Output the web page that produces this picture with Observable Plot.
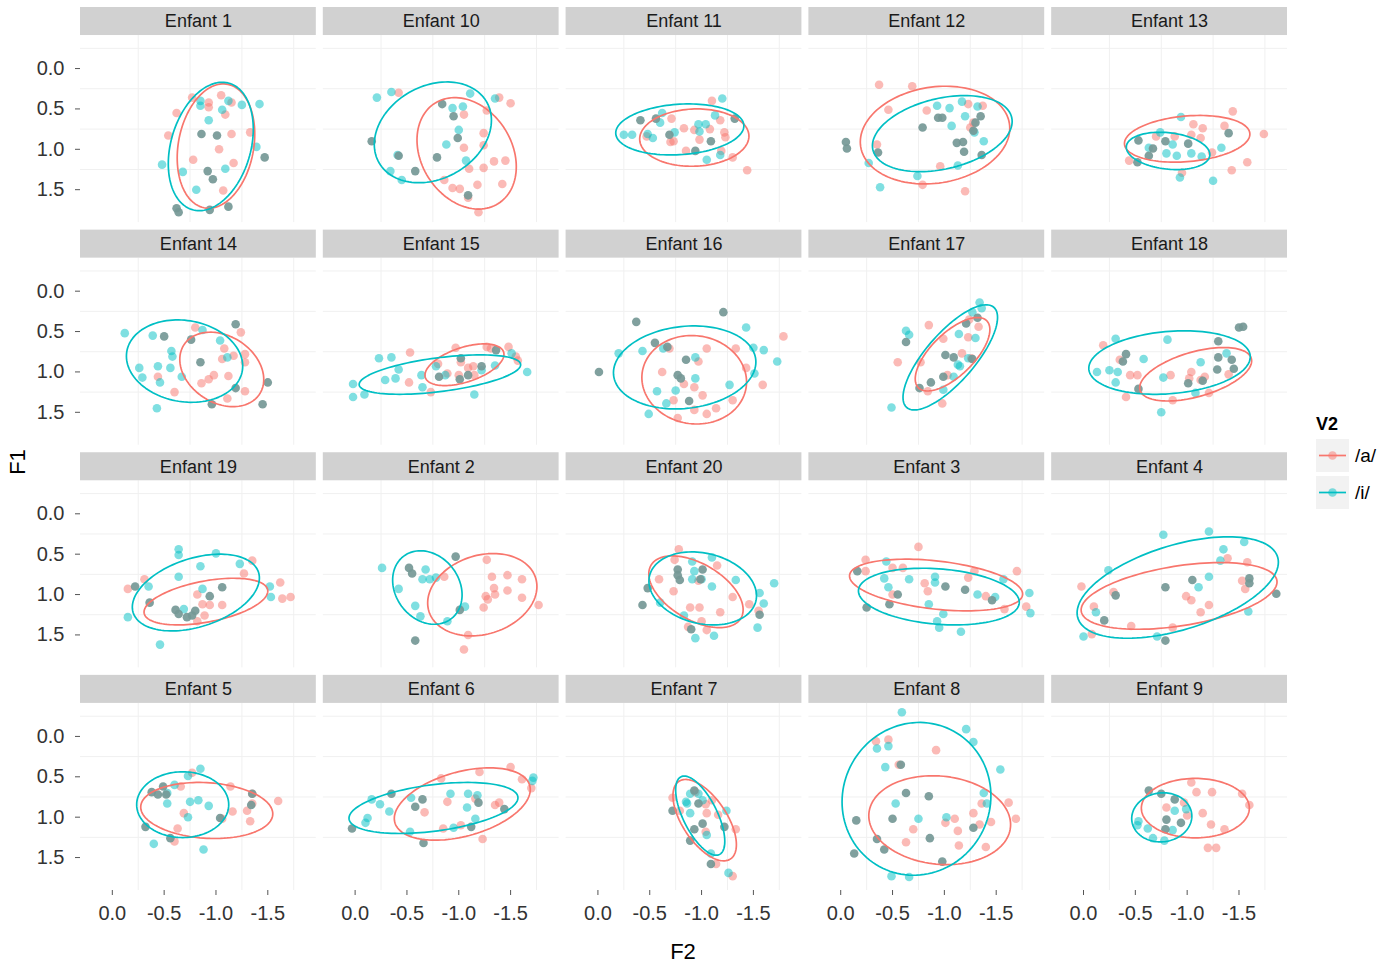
<!DOCTYPE html>
<html>
<head>
<meta charset="utf-8">
<script src="https://cdn.jsdelivr.net/npm/d3@7"></script>
<script src="https://cdn.jsdelivr.net/npm/@observablehq/plot@0.6"></script>
<style>
  html, body { margin: 0; padding: 0; background: #fff; }
  body { font-family: "Liberation Sans", Arial, Helvetica, sans-serif; }
  #wrap { position: relative; width: 1395px; height: 964px; overflow: hidden; background: #fff; }
  #chart { position: absolute; left: 0; top: 0; }
  .axis-title { position: absolute; font-size: 22px; color: #000; white-space: nowrap; }
  #xtitle { left: 683px; top: 952px; transform: translate(-50%, -50%); }
  #ytitle { left: 18px; top: 462px; transform: translate(-50%, -50%) rotate(-90deg); }
  #legend { position: absolute; left: 1316px; top: 412px; }
  #legend .ltitle { font-weight: bold; font-size: 18px; color: #000; height: 24px; line-height: 24px; }
  #legend .lrow { display: flex; align-items: center; height: 35px; margin-top: 2px; }
  #legend .lkey { width: 33px; height: 33px; background: #F2F2F2; }
  #legend .llab { font-size: 19px; margin-left: 6px; color: #000; }
</style>
</head>
<body>
<div id="wrap">
  <div id="chart"></div>
  <div id="xtitle" class="axis-title">F2</div>
  <div id="ytitle" class="axis-title">F1</div>
  <div id="legend"></div>
</div>
<script>
// ---------------- data ----------------
const children = [
  "Enfant 1","Enfant 10","Enfant 11","Enfant 12","Enfant 13",
  "Enfant 14","Enfant 15","Enfant 16","Enfant 17","Enfant 18",
  "Enfant 19","Enfant 2","Enfant 20","Enfant 3","Enfant 4",
  "Enfant 5","Enfant 6","Enfant 7","Enfant 8","Enfant 9"
];
const vowels = ["/a/", "/i/"];
const vowelColors = ["#F8766D", "#00BFC4"];
const legendTitle = "V2";
const xTitle = "F2";
const yTitle = "F1";

const f2Ticks = [0, -0.5, -1, -1.5];
const f1Ticks = [0, 0.5, 1, 1.5];
const f2Grid = [-0.25, -0.75, -1.25, -1.75];
const f1Grid = [-0.25, 0.25, 0.75, 1.25];
const F2_LIMITS = [0.307, -1.968];
const F1_LIMITS = [-0.409, 1.908];
const STRIP_TOP = -0.756;

// [child, [[F2, F1], ...]] — /a/ tokens
const pointsA = [
  ["Enfant 1", [[-1.05,.33],[-.93,.42],[-.93,.48],[-1.15,.42],[-1.09,.57],[-.62,.55],[-.77,.36],[-.54,.83],[-1.15,.81],[-1.33,.79],[-1.03,1.00],[-.78,1.13],[-1.17,1.17],[-1.07,1.51]]],
  ["Enfant 10", [[-.42,.30],[-1.39,.36],[-1.50,.43],[-1.05,.57],[-1.27,.52],[-1.24,.80],[-1.05,.98],[-1.24,.95],[-1.34,1.15],[-1.45,1.14],[-1.24,1.23],[-1.10,1.24],[-.86,1.38],[-1.18,1.44],[-1.42,1.43],[-.94,1.48],[-1.01,1.49],[-1.09,1.60],[-1.19,1.78]]],
  ["Enfant 11", [[-1.10,.40],[-.71,.62],[-1.18,.64],[-1.08,.75],[-.83,.74],[-.93,.76],[-1.22,.79],[-1.23,.85],[-.98,.88],[-.70,.91],[-.73,.90],[-.47,.84],[-.85,1.02],[-1.19,1.02],[-1.30,1.10],[-1.44,1.26]]],
  ["Enfant 12", [[-.37,.20],[-.69,.22],[-.46,.51],[-.83,.52],[-1.23,.44],[-1.37,.46],[-1.28,.67],[-1.25,.73],[-.35,.94],[-.96,1.21],[-.79,1.44],[-1.20,1.52]]],
  ["Enfant 13", [[-1.44,.53],[-1.06,.69],[-1.15,.74],[-1.36,.71],[-1.04,.82],[-1.13,.86],[-1.74,.81],[-.88,.84],[-.70,.84],[-1.24,1.04],[-1.58,1.16],[-1.43,1.26],[-.44,1.14],[-.95,1.29]]],
  ["Enfant 14", [[-.80,.45],[-1.24,.51],[-1.08,.71],[-1.17,.80],[-1.28,.78],[-1.28,.88],[-1.06,.84],[-1.12,1.05],[-.98,1.04],[-.93,1.09],[-.86,1.14],[-.44,1.06],[-.60,1.25],[-1.11,1.33],[-1.28,1.24]]],
  ["Enfant 15", [[-.53,.76],[-.97,.70],[-1.27,.69],[-1.31,.71],[-1.48,.69],[-1.55,.81],[-1.57,.86],[-1.02,.88],[-.80,.90],[-1.09,.95],[-1.14,.93],[-.89,1.02],[-1.00,1.04],[-1.15,1.04],[-.52,1.13],[-.73,1.25]]],
  ["Enfant 16", [[-1.79,.56],[-1.05,.71],[-1.33,.71],[-.69,.71],[-.62,1.00],[-.97,.87],[-.83,1.15],[-.93,1.19],[-1.01,1.29],[-.73,1.35],[-1.30,1.35],[-1.14,1.45],[-1.05,1.52],[-.93,1.47],[-.77,1.57],[-1.59,1.16],[-1.43,.95]]],
  ["Enfant 17", [[-.85,.42],[-.99,.59],[-1.23,.57],[-1.33,.44],[-1.24,.35],[-1.17,.77],[-.77,.88],[-.55,.88],[-1.03,1.04],[-.84,1.24],[-.98,1.39],[-1.26,.83]]],
  ["Enfant 18", [[-.19,.67],[-.35,.85],[-.45,1.04],[-.52,1.04],[-.84,1.04],[-1.04,1.00],[-1.02,1.08],[-1.17,1.06],[-1.13,1.10],[-1.40,1.03],[-.41,1.31],[-.86,1.35],[-1.21,1.26]]],
  ["Enfant 19", [[-.15,.93],[-.31,.81],[-1.35,.58],[-1.27,.74],[-1.62,.85],[-1.64,1.05],[-1.72,1.03],[-.82,1.00],[-.87,1.12],[-.94,1.13],[-1.06,1.13],[-.89,1.26],[-.82,1.33]]],
  ["Enfant 2", [[-.86,.78],[-1.27,.57],[-1.32,.78],[-1.47,.76],[-1.61,.81],[-1.26,1.02],[-1.28,1.06],[-1.34,.92],[-1.35,1.00],[-1.47,.95],[-1.61,1.04],[-1.77,1.13],[-1.24,1.16],[-1.09,1.50],[-1.05,1.68]]],
  ["Enfant 20", [[-.78,.44],[-.74,.57],[-1.15,.64],[-.59,.81],[-.97,.83],[-.73,.96],[-1.30,1.03],[-1.46,1.12],[-1.55,1.20],[-.89,1.16],[-.98,1.16],[-1.18,1.22],[-1.00,1.33],[-1.05,1.44],[-.87,1.40]]],
  ["Enfant 3", [[-.24,.57],[-.24,.71],[-.50,.67],[-.60,.67],[-.75,.41],[-.81,.86],[-.84,.96],[-.50,1.00],[-1.23,.79],[-1.29,.71],[-1.70,.71],[-1.40,1.02],[-1.58,1.18],[-1.79,1.15]]],
  ["Enfant 4", [[.02,.90],[-.10,1.15],[-.29,.97],[-.46,1.39],[-.86,1.41],[-.99,1.02],[-1.04,1.07],[-1.13,1.22],[-1.21,1.13],[-1.39,.55],[-1.58,.60],[-1.53,.83],[-1.56,.93],[-.08,1.49]]],
  ["Enfant 5", [[-.77,.45],[-.66,.62],[-1.14,.62],[-1.35,.71],[-1.60,.80],[-1.35,.83],[-1.16,.93],[-1.30,.92],[-1.33,1.05],[-1.06,1.02],[-.69,.95],[-.63,1.14],[-.60,1.30]]],
  ["Enfant 6", [[-.83,.52],[-1.20,.44],[-1.50,.38],[-1.61,.53],[-1.70,.64],[-.89,.81],[-.67,.94],[-1.16,.77],[-1.39,.82],[-.85,1.14],[-1.02,1.10],[-1.23,1.27],[-1.35,.85]]],
  ["Enfant 7", [[-.72,.76],[-.79,.92],[-1.04,.84],[-1.05,.95],[-1.16,.97],[-1.10,.79],[-1.04,1.18],[-.94,.69],[-1.33,1.15],[-1.14,1.58],[-1.30,1.73]]],
  ["Enfant 8", [[-.34,.06],[-.46,.04],[-.92,.17],[-.56,.35],[-1.01,1.07],[-1.10,1.02],[-1.13,1.17],[-1.28,.95],[-1.36,.83],[-1.34,1.09],[-1.45,1.06],[-1.62,.82],[-1.69,1.02],[-.70,1.15],[-.63,1.31],[-1.14,1.35],[-1.40,1.37]]],
  ["Enfant 9", [[-1.04,.57],[-1.09,.69],[-1.24,.69],[-1.53,.71],[-1.60,.85],[-1.15,.95],[-.80,.88],[-1.00,.98],[-1.23,1.09],[-1.36,1.15],[-1.20,1.38],[-1.28,1.38],[-.97,.82]]]
];

// [child, [[F2, F1], ...]] — /i/ tokens
const pointsI = [
  ["Enfant 1", [[-.85,.40],[-.85,.46],[-1.12,.40],[-1.06,.51],[-1.25,.45],[-1.42,.44],[-.93,.64],[-1.39,.97],[-.48,1.19],[-.68,1.28],[-1.09,1.24],[-.81,1.50]]],
  ["Enfant 10", [[-.21,.36],[-.35,.29],[-1.11,.31],[-.94,.49],[-1.04,.47],[-1.00,.76],[-.88,.94],[-1.07,1.14],[-.41,1.07],[-.34,1.27],[-.45,1.38],[-1.35,.37]]],
  ["Enfant 11", [[-1.20,.37],[-1.13,.58],[-.62,.55],[-.60,.67],[-.97,.69],[-1.04,.69],[-.98,.78],[-.74,.79],[-.53,.86],[-.25,.82],[-.33,.82],[-.48,.81],[-1.05,1.13],[-1.18,1.07]]],
  ["Enfant 12", [[-.93,.46],[-1.05,.49],[-1.17,.41],[-1.32,.47],[-1.20,.59],[-1.07,.71],[-1.29,.79],[-1.38,.90],[-1.13,1.20],[-.74,1.33],[-.38,1.47],[-.27,1.17]]],
  ["Enfant 13", [[-.94,.60],[-.74,.79],[-.86,.94],[-.63,.98],[-.80,1.05],[-.90,1.08],[-1.04,1.05],[-1.14,1.09],[-1.33,.98],[-1.25,1.39],[-.93,1.35]]],
  ["Enfant 14", [[-.12,.52],[-.39,.55],[-.87,.48],[-1.04,.61],[-.57,.74],[-.58,.81],[-1.11,.82],[-.26,.95],[-.44,.93],[-.56,.95],[-.29,1.07],[-.46,1.13],[-.67,1.06],[-.43,1.45]]],
  ["Enfant 15", [[-.23,.83],[-.35,.82],[-.42,.97],[-.64,1.04],[-.78,.93],[-.87,1.04],[-1.22,.98],[-1.35,.92],[-1.51,.77],[-1.66,1.00],[-.29,1.10],[-.39,1.08],[.02,1.15],[-.09,1.28],[.02,1.31],[-.65,1.19],[-1.15,1.28]]],
  ["Enfant 16", [[-1.43,.45],[-1.50,.70],[-1.60,.73],[-1.73,.87],[-.20,.77],[-.43,.74],[-.63,.71],[-.94,.82],[-.94,1.08],[-.57,1.24],[-.75,1.23],[-.66,1.39],[-1.27,1.16],[-.49,1.52],[-1.51,1.02]]],
  ["Enfant 17", [[-.63,.49],[-.66,.54],[-1.14,.53],[-1.30,.58],[-1.27,.26],[-1.34,.14],[-1.36,.21],[-1.13,.91],[-1.15,.93],[-1.23,.83],[-1.09,1.06],[-.99,1.22],[-.49,1.44]]],
  ["Enfant 18", [[-.31,.59],[-.13,1.00],[-.25,.98],[-.33,1.00],[-.31,1.13],[-.58,.84],[-.81,.60],[-.77,1.07],[-1.13,.88],[-1.38,.77],[-1.08,1.26],[-.75,1.50]]],
  ["Enfant 19", [[-.64,.44],[-.64,.51],[-1.00,.49],[-.85,.65],[-.64,.78],[-1.23,.62],[-.35,.90],[-.87,.93],[-1.52,.90],[-1.53,1.03],[-.15,1.28],[-.69,1.18],[-.46,1.62]]],
  ["Enfant 2", [[-.26,.67],[-.42,.93],[-.68,.69],[-.65,.81],[-.72,.81],[-.78,.79],[-.58,1.14],[-.63,1.27],[-1.06,1.15],[-.89,1.33]]],
  ["Enfant 20", [[-.91,.59],[-1.10,.54],[-.93,.71],[-.91,.81],[-1.00,.81],[-1.33,.82],[-1.10,.90],[-1.56,.98],[-1.60,1.11],[-1.70,.86],[-.83,1.26],[-1.54,1.41],[-1.12,1.51],[-.94,1.54],[-.60,1.10]]],
  ["Enfant 3", [[-.44,.59],[-.42,.80],[-.46,.91],[-.66,.81],[-.91,.78],[-.91,.85],[-.85,1.12],[-.99,1.24],[-.93,1.33],[-.95,1.41],[-1.16,1.46],[-1.32,1.00],[-1.49,1.03],[-1.57,.81],[-1.82,.98],[-1.83,1.23]]],
  ["Enfant 4", [[-.77,.26],[-1.21,.22],[-.24,.70],[-.12,1.22],[.00,1.52],[-.71,1.52],[-1.11,.91],[-1.21,.78],[-1.32,.58],[-1.35,.44],[-1.55,.35],[-1.59,1.21]]],
  ["Enfant 5", [[-.85,.40],[-.73,.49],[-.60,.60],[-.75,.81],[-.83,.79],[-.93,.86],[-.53,.83],[-.73,1.00],[-.40,1.33],[-.88,1.40],[-.53,.70]]],
  ["Enfant 6", [[-.16,.78],[-.24,.84],[-.33,.93],[-.12,1.01],[-.10,1.07],[-.54,.76],[-.92,.71],[-1.09,.71],[-1.18,.73],[-1.08,.88],[-1.16,1.02],[-.95,1.13],[-.53,1.18],[-1.72,.51],[-1.71,.55]]],
  ["Enfant 7", [[-.85,.81],[-.89,.71],[-.97,.71],[-.89,.95],[-1.01,.79],[-1.05,1.22],[-1.09,1.45],[-1.24,.92],[-1.26,1.69],[-.86,.83]]],
  ["Enfant 8", [[-.59,-.30],[-1.21,-.09],[-1.28,.07],[-.35,.15],[-.46,.12],[-.43,.38],[-1.54,.41],[-1.38,.70],[-1.41,.83],[-.53,.83],[-.75,1.02],[-1.02,1.00],[-.49,1.73],[-.66,1.74]]],
  ["Enfant 9", [[-.88,.92],[-.99,.90],[-.53,1.05],[-.62,1.14],[-.86,1.16],[-.67,1.26],[-.78,1.29],[-.52,1.10]]]
];

// [child, [[F2, F1], ...]] — positions where an /a/ and an /i/ token coincide
const pointsBoth = [
  ["Enfant 1", [[-.86,.81],[-1.01,.83],[-.92,1.27],[-.97,1.37],[-1.47,1.10],[-.62,1.73],[-.64,1.78],[-.94,1.75],[-1.12,1.71]]],
  ["Enfant 10", [[-.84,.44],[-.95,.59],[-.99,.86],[-.79,1.10],[-.16,.90],[-.42,1.08],[-.58,1.27],[-1.09,1.57]]],
  ["Enfant 11", [[-.41,.64],[-.56,.62],[-.69,.82],[-1.09,.90],[-.94,1.02],[-1.32,.62]]],
  ["Enfant 12", [[-.79,.73],[-.94,.61],[-.98,.61],[-1.35,.59],[-1.30,.67],[-1.12,.92],[-1.18,.91],[-1.28,.77],[-1.19,1.03],[-1.36,1.07],[-.05,.91],[-.06,.99],[-.36,1.04]]],
  ["Enfant 13", [[-.53,.89],[-.79,.90],[-1.01,.93],[-.63,1.08],[-.67,.99],[-1.40,.80],[-.52,1.16]]],
  ["Enfant 14", [[-.50,.56],[-.76,.60],[-1.19,.41],[-.85,.88],[-1.50,1.13],[-1.19,1.20],[-.96,1.40],[-1.45,1.40]]],
  ["Enfant 15", [[-.81,1.06],[-1.02,.83],[-1.22,.93],[-1.36,.73],[-1.01,1.09],[-1.09,1.04]]],
  ["Enfant 16", [[-.37,.38],[-1.21,.26],[-.55,.64],[-.67,.69],[-.85,.85],[-.77,1.04],[-.80,1.08],[-.88,1.36],[-.01,1.00]]],
  ["Enfant 17", [[-.63,.63],[-1.01,.79],[-1.09,.82],[-1.27,.84],[-1.32,.33],[-1.21,.40],[-.99,1.06],[-.87,1.13],[-.76,1.20]]],
  ["Enfant 18", [[-.41,.78],[-.38,.87],[-.53,1.21],[-1.01,1.14],[-1.15,1.11],[-1.30,.62],[-1.30,.82],[-1.43,.85],[-1.45,.96],[-1.29,.97],[-1.50,.45],[-1.54,.44]]],
  ["Enfant 19", [[-.22,.90],[-.36,1.10],[-.94,1.02],[-1.06,.91],[-.61,1.19],[-.64,1.24],[-.72,1.28],[-.80,1.20],[-.77,1.26]]],
  ["Enfant 2", [[-.52,.67],[-.55,.74],[-.97,.53],[-1.01,1.19],[-.58,1.57]]],
  ["Enfant 20", [[-.77,.69],[-.77,.76],[-.79,.82],[-1.01,.69],[-.99,.81],[-.48,.92],[-.43,1.13],[-.90,1.43],[-1.56,1.25]]],
  ["Enfant 3", [[-.16,.71],[-.55,1.00],[-.47,1.12],[-.25,1.16],[-1.01,.90],[-1.20,.94],[-1.46,1.07]]],
  ["Enfant 4", [[-.31,1.01],[-.20,1.32],[-.79,.91],[-1.05,.82],[-1.60,.80],[-1.60,.86],[-1.86,.99],[-.79,1.57]]],
  ["Enfant 5", [[-.38,.69],[-.44,.72],[-.49,.62],[-.52,.72],[-.32,1.12],[-.56,1.26],[-1.04,1.01],[-1.35,.71],[-1.34,.85]]],
  ["Enfant 6", [[.03,1.14],[-.35,.71],[-.58,.87],[-.65,.78],[-1.19,.82],[-1.44,.90],[-1.12,1.12],[-.66,1.32]]],
  ["Enfant 7", [[-.72,.92],[-.93,.67],[-.97,.83],[-1.01,1.08],[-.93,1.15],[-1.22,1.12],[-1.09,1.58],[-.89,1.29]]],
  ["Enfant 8", [[-.58,.35],[-.63,.70],[-.85,.74],[-.15,1.04],[-.50,1.02],[-.35,1.27],[-.42,1.40],[-.13,1.45],[-.86,1.26],[-.98,1.55],[-1.28,1.13]]],
  ["Enfant 9", [[-.63,.67],[-.75,.71],[-.88,.78],[-.80,1.03],[-.94,1.07],[-.79,1.15]]]
];

// 95% ellipses: [child, vowel, centre F2, centre F1, half-extent F2, half-extent F1, correlation]
const ellipses = [
  ["Enfant 1","/a/",-1.00,.96,.374,.77,.19],   ["Enfant 1","/i/",-.95,.965,.41,.795,.27],
  ["Enfant 10","/a/",-1.076,1.05,.479,.69,-.24],["Enfant 10","/i/",-.75,.79,.565,.624,.24],
  ["Enfant 11","/a/",-.93,.855,.527,.355,.05], ["Enfant 11","/i/",-.79,.754,.618,.316,.14],
  ["Enfant 12","/a/",-.91,.824,.721,.605,.14], ["Enfant 12","/i/",-.98,.806,.674,.471,.32],
  ["Enfant 13","/a/",-1.00,.87,.605,.289,.2],  ["Enfant 13","/i/",-.816,1.02,.403,.231,-.2],
  ["Enfant 14","/a/",-1.056,.969,.405,.461,-.27],["Enfant 14","/i/",-.697,.866,.561,.51,-.12],
  ["Enfant 15","/a/",-1.055,.911,.381,.258,.5],["Enfant 15","/i/",-.818,1.033,.779,.244,.5],
  ["Enfant 16","/a/",-.929,1.097,.505,.548,-.05],["Enfant 16","/i/",-.837,.944,.687,.514,.13],
  ["Enfant 17","/a/",-1.079,.781,.36,.455,.67],["Enfant 17","/i/",-1.057,.82,.456,.651,.76],
  ["Enfant 18","/a/",-1.082,1.029,.54,.331,.5],["Enfant 18","/i/",-.83,.884,.779,.393,.18],
  ["Enfant 19","/a/",-.903,1.087,.597,.289,.45],["Enfant 19","/i/",-.806,.975,.613,.475,.38],
  ["Enfant 2","/a/",-1.227,1.002,.527,.51,.2], ["Enfant 2","/i/",-.697,.913,.335,.455,-.2],
  ["Enfant 20","/a/",-.946,.965,.455,.444,-.5],["Enfant 20","/i/",-1.011,.924,.519,.452,-.2],
  ["Enfant 3","/a/",-.92,.882,.835,.32,-.35],  ["Enfant 3","/i/",-.947,1.025,.776,.351,-.2],
  ["Enfant 4","/a/",-.922,1.017,.945,.413,.42],["Enfant 4","/i/",-.909,.913,.971,.628,.5],
  ["Enfant 5","/a/",-.911,.917,.637,.347,-.12],["Enfant 5","/i/",-.679,.845,.444,.407,0],
  ["Enfant 6","/a/",-1.034,.837,.656,.448,.4], ["Enfant 6","/i/",-.756,.886,.815,.316,.4],
  ["Enfant 7","/a/",-1.03,1.037,.306,.504,-.6],["Enfant 7","/i/",-.987,.981,.237,.49,-.65],
  ["Enfant 8","/a/",-.955,1.037,.684,.55,-.1], ["Enfant 8","/i/",-.731,.773,.718,.946,.04],
  ["Enfant 9","/a/",-1.079,.888,.521,.368,0],  ["Enfant 9","/i/",-.755,1.002,.29,.304,.05]
];

// ---------------- build tables ----------------
const NCOL = 5;
const facetOf = name => {
  const i = children.indexOf(name);
  return { col: i % NCOL, row: Math.floor(i / NCOL) };
};
const stripRows = children.map(name => ({ name, ...facetOf(name) }));

const dotsA = [], dotsI = [], dotsBoth = [];
for (const [name, pts] of pointsA) for (const [F2, F1] of pts) dotsA.push({ name, vowel: "/a/", F2, F1, ...facetOf(name) });
for (const [name, pts] of pointsI) for (const [F2, F1] of pts) dotsI.push({ name, vowel: "/i/", F2, F1, ...facetOf(name) });
for (const [name, pts] of pointsBoth) for (const [F2, F1] of pts) dotsBoth.push({ name, F2, F1, ...facetOf(name) });

// colour seen where a translucent /a/ and /i/ dot sit on top of each other
const overlapColor = (() => {
  const a = d3.rgb(vowelColors[0]), i = d3.rgb(vowelColors[1]);
  const pa = [a.r, a.g, a.b].map(v => 0.5 * v + 0.5 * 255);
  const pi = [i.r, i.g, i.b];
  const m = pa.map((v, k) => v * (0.5 + 0.5 * pi[k] / 255) * 0.93);
  return d3.rgb(m[0], m[1], m[2]).formatHex();
})();

// trace each ellipse outline from its centre, extents and correlation
const NSEG = 120;
const ellipseRows = [];
for (const [name, vowel, cx, cy, sx, sy, rho] of ellipses) {
  const k = Math.sqrt(1 - rho * rho);
  for (let j = 0; j <= NSEG; j++) {
    const t = 2 * Math.PI * j / NSEG;
    ellipseRows.push({
      key: name + vowel, name, vowel,
      F2: cx + sx * Math.cos(t),
      F1: cy + sy * (rho * Math.cos(t) + k * Math.sin(t)),
      ...facetOf(name)
    });
  }
}

const fmt = d => d.toFixed(1);

const chart = Plot.plot({
  width: 1300,
  height: 964,
  marginLeft: 80,
  marginRight: 13,
  marginTop: 7,
  marginBottom: 74,
  style: { fontFamily: "'Liberation Sans', Arial, Helvetica, sans-serif", background: "#fff", overflow: "visible" },
  fx: { domain: d3.range(NCOL), paddingInner: 0.0288, paddingOuter: 0, round: false, axis: null },
  fy: { domain: d3.range(Math.ceil(children.length / NCOL)), paddingInner: 0.0337, paddingOuter: 0, round: false, axis: null },
  x: { domain: F2_LIMITS },
  y: { domain: [STRIP_TOP, F1_LIMITS[1]], reverse: true },
  color: { domain: vowels, range: vowelColors },
  marks: [
    // minor grid (the only visible grid in the original)
    Plot.ruleX(f2Grid, { y1: F1_LIMITS[0], y2: F1_LIMITS[1], stroke: "#F0F0F0", strokeWidth: 1 }),
    Plot.ruleY(f1Grid, { x1: F2_LIMITS[0], x2: F2_LIMITS[1], stroke: "#F0F0F0", strokeWidth: 1 }),
    // strips
    Plot.rect(stripRows, { x1: F2_LIMITS[0], x2: F2_LIMITS[1], y1: STRIP_TOP, y2: F1_LIMITS[0], fx: "col", fy: "row", fill: "#D1D1D1" }),
    Plot.text(stripRows, { text: "name", fx: "col", fy: "row", frameAnchor: "top", dy: 14, lineAnchor: "middle", fontSize: 18, fill: "#1A1A1A" }),
    // points
    Plot.dot(dotsA, { x: "F2", y: "F1", fx: "col", fy: "row", fill: "vowel", r: 4.3, fillOpacity: 0.5, stroke: null }),
    Plot.dot(dotsI, { x: "F2", y: "F1", fx: "col", fy: "row", fill: "vowel", r: 4.3, fillOpacity: 0.5, stroke: null }),
    Plot.dot(dotsBoth, { x: "F2", y: "F1", fx: "col", fy: "row", fill: overlapColor, r: 4.3, fillOpacity: 0.92, stroke: null }),
    // ellipses
    Plot.line(ellipseRows, { x: "F2", y: "F1", z: "key", fx: "col", fy: "row", stroke: "vowel", strokeWidth: 1.7 }),
    // axes
    Plot.axisY(f1Ticks, { tickFormat: fmt, fontSize: 20, tickSize: 5, tickPadding: 11, stroke: "#555", fill: "#333", label: null }),
    Plot.axisX(f2Ticks, { tickFormat: fmt, fontSize: 20, tickSize: 5, tickPadding: 10, stroke: "#555", fill: "#333", label: null })
  ]
});
document.getElementById("chart").appendChild(chart);

document.getElementById("xtitle").textContent = xTitle;
document.getElementById("ytitle").textContent = yTitle;

// legend
const legend = document.getElementById("legend");
legend.innerHTML = `<div class="ltitle">${legendTitle}</div>` + vowels.map((v, i) => `
  <div class="lrow">
    <div class="lkey"><svg width="33" height="33"><line x1="3" x2="30" y1="16.5" y2="16.5" stroke="${vowelColors[i]}" stroke-width="1.7"/><circle cx="16.5" cy="16.5" r="4.3" fill="${vowelColors[i]}" fill-opacity="0.5"/></svg></div>
    <div class="llab">${v}</div>
  </div>`).join("");
</script>
</body>
</html>
